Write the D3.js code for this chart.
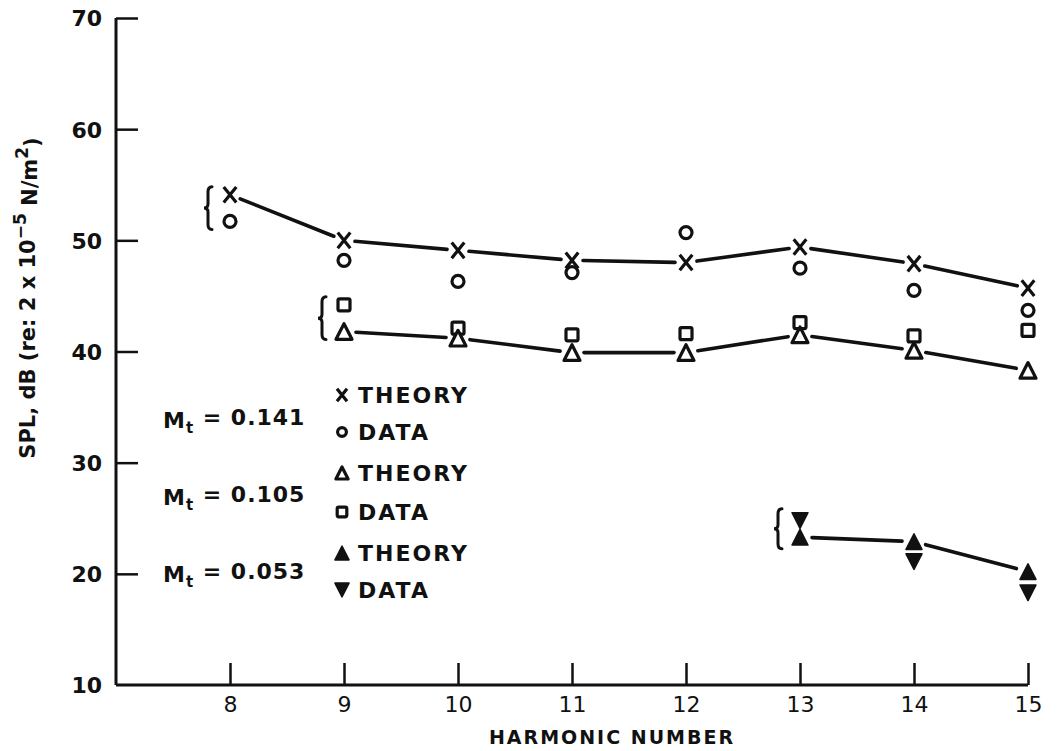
<!DOCTYPE html>
<html>
<head>
<meta charset="utf-8">
<script src="https://cdn.jsdelivr.net/npm/d3@7"></script>
<style>
  html, body { margin: 0; padding: 0; background: #fff; }
  svg text { font-family: "DejaVu Sans", "Liberation Sans", sans-serif; font-weight: bold; fill: #111; }
</style>
</head>
<body>
<svg id="chart" width="1057" height="751"></svg>
<script>
// Harmonic numbers and SPL levels (dB re 2x10^-5 N/m^2) for three tip Mach numbers
const harmonicsA = [8, 9, 10, 11, 12, 13, 14, 15];
const theoryA    = [54.1, 50.0, 49.1, 48.2, 48.0, 49.4, 47.9, 45.7];   // Mt = 0.141
const dataA      = [51.7, 48.2, 46.3, 47.1, 50.7, 47.5, 45.5, 43.7];

const harmonicsB = [9, 10, 11, 12, 13, 14, 15];
const theoryB    = [41.8, 41.2, 39.9, 39.9, 41.5, 40.1, 38.3];         // Mt = 0.105
const dataB      = [44.2, 42.1, 41.5, 41.6, 42.6, 41.4, 41.9];

const harmonicsC = [13, 14, 15];
const theoryC    = [23.3, 22.9, 20.2];                                   // Mt = 0.053
const dataC      = [24.8, 21.1, 18.3];

const xTicks = [8, 9, 10, 11, 12, 13, 14, 15];
const yTicks = [10, 20, 30, 40, 50, 60, 70];
const machLabels = ["0.141", "0.105", "0.053"];
const legendLabels = ["THEORY", "DATA", "THEORY", "DATA", "THEORY", "DATA"];

const svg = d3.select("#chart");
const x = d3.scaleLinear().domain([7, 15]).range([116, 1028]);
const y = d3.scaleLinear().domain([10, 70]).range([685, 18]);

const ink = "#111";

// Axes: ticks point inward, into the plot area
const axisX = d3.axisBottom(x).tickValues(xTicks).tickSize(-22).tickSizeOuter(0).tickFormat(d3.format("d"));
const gx = svg.append("g").attr("transform", `translate(0,${y(10)})`).call(axisX);
gx.select(".domain").attr("stroke", ink).attr("stroke-width", 3).attr("d", `M${x(7)},0H${x(15)}`);
gx.selectAll(".tick line").attr("stroke", ink).attr("stroke-width", 2.5);
gx.selectAll(".tick text").attr("y", 11).attr("dy", "0.71em").style("font-size", "22px").style("font-weight", "normal");

const axisY = d3.axisLeft(y).tickValues(yTicks).tickSize(-22).tickSizeOuter(0).tickFormat(d3.format("d"));
const gy = svg.append("g").attr("transform", `translate(${x(7)},0)`).call(axisY);
gy.select(".domain").attr("stroke", ink).attr("stroke-width", 3).attr("d", `M0,${y(10)}V${y(70)}`);
gy.selectAll(".tick line").attr("stroke", ink).attr("stroke-width", 2.5);
gy.selectAll(".tick line").filter(d => d === 10).remove();
gy.selectAll(".tick text").attr("x", -14).attr("dy", "0.36em").style("font-size", "22px");

// Axis titles
svg.append("text")
  .attr("x", 612).attr("y", 744)
  .attr("text-anchor", "middle")
  .style("font-size", "19px").style("letter-spacing", "2px")
  .text("HARMONIC NUMBER");

const yTitle = svg.append("text")
  .attr("transform", "translate(35,298) rotate(-90)")
  .attr("text-anchor", "middle")
  .style("font-size", "21px");
yTitle.append("tspan").text("SPL, dB (re: 2 x 10");
yTitle.append("tspan").attr("dy", "-0.55em").style("font-size", "17px").text("−5");
yTitle.append("tspan").attr("dy", "0.55em").text(" N/m");
yTitle.append("tspan").attr("dy", "-0.55em").style("font-size", "17px").text("2");
yTitle.append("tspan").attr("dy", "0.55em").text(")");

// Marker drawing helpers
function xMark(g, s) {
  const w = s * 0.42, h = s * 0.52;
  return g.append("path").attr("d", `M${-w},${-h}L${w},${h}M${w},${-h}L${-w},${h}`)
    .attr("fill", "none").attr("stroke", ink).attr("stroke-width", 3.2);
}
function circleMark(g, s) {
  return g.append("circle").attr("r", s * 0.4).attr("fill", "#fff").attr("stroke", ink).attr("stroke-width", 3.2);
}
function squareMark(g, s) {
  const h = s * 0.4;
  return g.append("rect").attr("x", -h).attr("y", -h).attr("width", 2 * h).attr("height", 2 * h).attr("rx", 1.5)
    .attr("fill", "#fff").attr("stroke", ink).attr("stroke-width", 3.2);
}
function triMark(g, s, filled, down) {
  const w = s * 0.47, h = s * 0.46;
  const d = down ? `M${-w},${-h}L${w},${-h}L0,${h}Z` : `M0,${-h}L${w},${h}L${-w},${h}Z`;
  return g.append("path").attr("d", d)
    .attr("fill", filled ? ink : "#fff").attr("stroke", ink).attr("stroke-width", filled ? 1.5 : 3.2)
    .attr("stroke-linejoin", "round");
}

const line = d3.line().x(d => x(d[0])).y(d => y(d[1]));

function drawSeries(hs, theory, data, theoryMark, dataMark, gap) {
  const pts = hs.map((h, i) => [h, theory[i]]);
  // theory curve, broken around each marker
  const g = svg.append("g");
  for (let i = 0; i < pts.length - 1; i++) {
    const x0 = x(pts[i][0]), y0 = y(pts[i][1]), x1 = x(pts[i + 1][0]), y1 = y(pts[i + 1][1]);
    const len = Math.hypot(x1 - x0, y1 - y0);
    const ux = (x1 - x0) / len, uy = (y1 - y0) / len;
    g.append("path")
      .attr("d", line([[x.invert(x0 + ux * gap), y.invert(y0 + uy * gap)], [x.invert(x1 - ux * gap), y.invert(y1 - uy * gap)]]))
      .attr("fill", "none").attr("stroke", ink).attr("stroke-width", 3.6).attr("stroke-linecap", "round");
  }
  hs.forEach((h, i) => {
    dataMark(svg.append("g").attr("transform", `translate(${x(h)},${y(data[i])})`));
    theoryMark(svg.append("g").attr("transform", `translate(${x(h)},${y(theory[i])})`));
  });
  // grouping brace at the first harmonic of each series
  const ya = y(theory[0]), yb = y(data[0]);
  const cy = (ya + yb) / 2, half = Math.max(Math.abs(ya - yb) + 16, 40) / 2;
  const cx = x(hs[0]) - 22;
  svg.append("path")
    .attr("d", `M${cx + 4},${cy - half} Q${cx},${cy - half} ${cx},${cy - half + 5} L${cx},${cy - 4} Q${cx},${cy} ${cx - 4},${cy} Q${cx},${cy} ${cx},${cy + 4} L${cx},${cy + half - 5} Q${cx},${cy + half} ${cx + 4},${cy + half}`)
    .attr("fill", "none").attr("stroke", ink).attr("stroke-width", 3).attr("stroke-linecap", "round");
}

drawSeries(harmonicsA, theoryA, dataA, g => xMark(g, 15), g => circleMark(g, 15), 11);
drawSeries(harmonicsB, theoryB, dataB, g => triMark(g, 17, false, false), g => squareMark(g, 15), 12);
drawSeries(harmonicsC, theoryC, dataC, g => triMark(g, 17, true, false), g => triMark(g, 17, true, true), 12);

// Legend
const legendY = [395, 432, 473, 512, 553, 590];
const legendMarks = [
  g => xMark(g, 12), g => circleMark(g, 11), g => triMark(g, 13, false, false),
  g => squareMark(g, 12), g => triMark(g, 15, true, false), g => triMark(g, 15, true, true)
];
legendLabels.forEach((t, i) => {
  legendMarks[i](svg.append("g").attr("transform", `translate(342,${legendY[i]})`));
  svg.append("text").attr("x", 358).attr("y", legendY[i]).attr("dy", "0.36em")
    .style("font-size", "22px").style("letter-spacing", "2px").text(t);
});

const machY = [420, 497, 574];
machLabels.forEach((m, i) => {
  const t = svg.append("text").attr("x", 163).attr("y", machY[i]).attr("dy", "0.36em")
    .style("font-size", "22px").style("letter-spacing", "1px");
  t.append("tspan").text("M");
  t.append("tspan").attr("dy", "0.35em").style("font-size", "15px").text("t");
  t.append("tspan").attr("dy", "-0.35em").text(" = " + m);
});
</script>
</body>
</html>
